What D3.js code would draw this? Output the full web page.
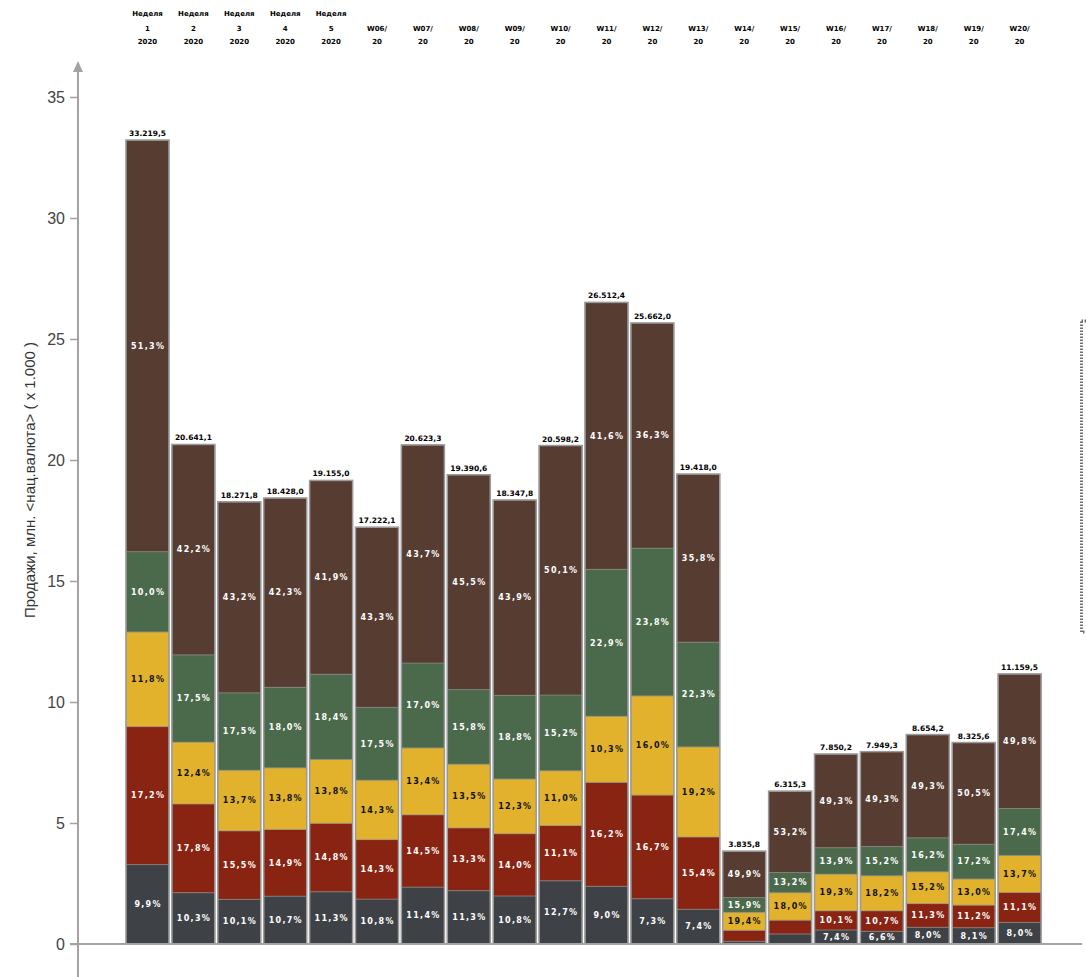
<!DOCTYPE html>
<html><head><meta charset="utf-8">
<script src="https://cdn.jsdelivr.net/npm/d3@7/dist/d3.min.js"></script>
<style>
html,body{margin:0;padding:0;background:#fff;}
svg{display:block;}
</style></head>
<body>
<svg id="chart" width="1086" height="977"></svg>
<script>
// ---- data ----
const categories = ["Неделя|1|2020","Неделя|2|2020","Неделя|3|2020","Неделя|4|2020","Неделя|5|2020",
  "|W06/|20","|W07/|20","|W08/|20","|W09/|20","|W10/|20","|W11/|20","|W12/|20","|W13/|20","|W14/|20",
  "|W15/|20","|W16/|20","|W17/|20","|W18/|20","|W19/|20","|W20/|20"];
const totals = [33219.5,20641.1,18271.8,18428.0,19155.0,17222.1,20623.3,19390.6,18347.8,20598.2,
  26512.4,25662.0,19418.0,3835.8,6315.3,7850.2,7949.3,8654.2,8325.6,11159.5];
const grayPct   = [9.9,10.3,10.1,10.7,11.3,10.8,11.4,11.3,10.8,12.7,9.0,7.3,7.4,2.9,6.6,7.4,6.6,8.0,8.1,8.0];
const redPct    = [17.2,17.8,15.5,14.9,14.8,14.3,14.5,13.3,14.0,11.1,16.2,16.7,15.4,11.9,9.0,10.1,10.7,11.3,11.2,11.1];
const yellowPct = [11.8,12.4,13.7,13.8,13.8,14.3,13.4,13.5,12.3,11.0,10.3,16.0,19.2,19.4,18.0,19.3,18.2,15.2,13.0,13.7];
const greenPct  = [10.0,17.5,17.5,18.0,18.4,17.5,17.0,15.8,18.8,15.2,22.9,23.8,22.3,15.9,13.2,13.9,15.2,16.2,17.2,17.4];
const brownPct  = [51.3,42.2,43.2,42.3,41.9,43.3,43.7,45.5,43.9,50.1,41.6,36.3,35.8,49.9,53.2,49.3,49.3,49.3,50.5,49.8];
const seriesPct = [grayPct, redPct, yellowPct, greenPct, brownPct];
const seriesColors = ["#3e4246","#8a2412","#e2b22c","#4b6a4b","#573c32"];
const seriesTextColors = ["#fff","#fff","#111","#fff","#fff"];
const hiddenLabels = ["13-0","13-1","14-0","14-1"];
const yTicks = [0,5,10,15,20,25,30,35];
const yTitle = "Продажи, млн. <нац.валюта> ( x 1.000 )";

// ---- build ----
const svg = d3.select("#chart");
const y = d3.scaleLinear().domain([0,35]).range([944,97]);
const x = d3.scaleBand().domain(categories).range([124.55,1042.55]).paddingInner(0.063).paddingOuter(0.0315);

const locale = d3.formatLocale({decimal:",",thousands:".",grouping:[3],currency:["",""]});
const fmtTotal = locale.format(",.1f");
const fmtPct = v => locale.format(".1f")(v) + "%";

const rows = categories.map((c,i) => {
  const sum = d3.sum(seriesPct, s => s[i]);
  const o = {cat:c, i:i};
  seriesPct.forEach((s,k) => { o["s"+k] = totals[i]/1000 * s[i]/sum; });
  return o;
});
const stack = d3.stack().keys(seriesPct.map((s,k)=>"s"+k));
const stacked = stack(rows);

// legend box (cut off at right)
svg.append("rect").attr("x",1081.5).attr("y",321).attr("width",80).attr("height",311)
  .attr("fill","none").attr("stroke","#6f6f6f").attr("stroke-width",3).attr("stroke-dasharray","1.5,1.5");

// bars
const gBars = svg.append("g");
stacked.forEach((layer,k) => {
  gBars.selectAll(null).data(layer).enter().append("rect")
    .attr("x", d => x(d.data.cat))
    .attr("width", x.bandwidth())
    .attr("y", d => y(d[1]))
    .attr("height", d => y(d[0]) - y(d[1]))
    .attr("fill", seriesColors[k])
    .attr("stroke", "rgba(140,140,140,0.55)").attr("stroke-width", 1);
});
gBars.selectAll(null).data(rows).enter().append("rect")
  .attr("x", d => x(d.cat))
  .attr("width", x.bandwidth())
  .attr("y", d => y(totals[d.i]/1000))
  .attr("height", d => y(0) - y(totals[d.i]/1000))
  .attr("fill","none").attr("stroke","#9a9a9a").attr("stroke-width",1.5);

// segment labels
const gLab = svg.append("g").attr("font-family","DejaVu Sans, sans-serif").attr("font-weight","bold")
  .attr("font-size","8px").attr("text-anchor","middle").attr("letter-spacing","1.3px");
stacked.forEach((layer,k) => {
  gLab.selectAll(null).data(layer.filter(d => hiddenLabels.indexOf(d.data.i+"-"+k) < 0)).enter().append("text")
    .attr("x", d => x(d.data.cat) + x.bandwidth()/2 + 0.6)
    .attr("y", d => (y(d[0]) + y(d[1]))/2)
    .attr("dy","0.35em")
    .attr("fill", seriesTextColors[k])
    .text(d => fmtPct(seriesPct[k][d.data.i]));
});

// totals
svg.append("g").attr("font-family","DejaVu Sans, sans-serif").attr("font-weight","bold")
  .attr("font-size","7.5px").attr("text-anchor","middle").attr("fill","#000")
  .selectAll("text").data(rows).enter().append("text")
  .attr("x", d => x(d.cat) + x.bandwidth()/2)
  .attr("y", d => y(totals[d.i]/1000) - 4)
  .text(d => fmtTotal(totals[d.i]));

// header category labels
const gHead = svg.append("g").attr("font-family","DejaVu Sans, sans-serif").attr("font-weight","bold")
  .attr("font-size","7px").attr("text-anchor","middle").attr("fill","#000");
const rowY = [16,31,44];
categories.forEach(c => {
  c.split("|").forEach((t,r) => {
    if (!t) return;
    gHead.append("text").attr("x", x(c) + x.bandwidth()/2).attr("y", rowY[r]).text(t);
  });
});

// axes
const axisColor = "#a3a3a3";
svg.append("line").attr("x1",70).attr("x2",1082).attr("y1",y(0)).attr("y2",y(0))
  .attr("stroke",axisColor).attr("stroke-width",2);
svg.append("line").attr("x1",78).attr("x2",78).attr("y1",68).attr("y2",977)
  .attr("stroke",axisColor).attr("stroke-width",2);
svg.append("path").attr("d","M73,72 L78,61 L83,72 Z").attr("fill",axisColor);

const yAxis = d3.axisLeft(y).tickValues(yTicks).tickSize(8).tickPadding(5).tickFormat(d3.format("d"));
const gy = svg.append("g").attr("transform","translate(78,0)").call(yAxis);
gy.select(".domain").remove();
gy.selectAll(".tick line").attr("stroke",axisColor).attr("stroke-width",1.5);
gy.selectAll(".tick text").attr("font-family","Liberation Sans, Arial, sans-serif")
  .attr("font-size","16px").attr("fill","#444");

svg.append("text").attr("transform","translate(35,480) rotate(-90)")
  .attr("text-anchor","middle").attr("font-family","Liberation Sans, Arial, sans-serif")
  .attr("font-size","15px").attr("fill","#333").text(yTitle);
</script>
</body></html>
